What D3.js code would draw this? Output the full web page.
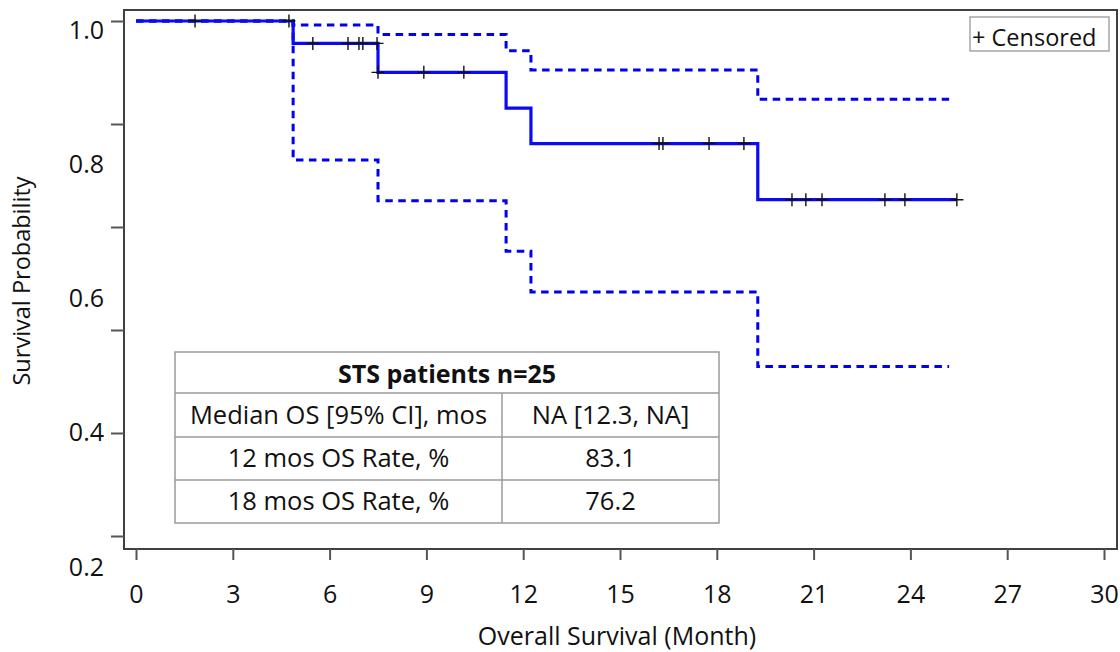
<!DOCTYPE html>
<html>
<head>
<meta charset="utf-8">
<script src="https://cdn.jsdelivr.net/npm/d3@7"></script>
<style>
  body { margin: 0; background: #fff; }
  svg { display: block; font-family: "Open Sans", "Noto Sans", sans-serif; }
</style>
</head>
<body>
<svg id="km" width="1120" height="652"></svg>
<script>
// Kaplan-Meier step data (months / survival probability)
var stepTimes = [0, 4.87, 7.50, 11.47, 12.24, 19.27];
var survival  = [1, 0.9565, 0.9003, 0.831, 0.762, 0.653];
var upperCI   = [1, 0.992, 0.974, 0.942, 0.905, 0.848];
var lowerCI   = [1, 0.730, 0.651, 0.553, 0.474, 0.329];
var curveEnd = 25.44;
var ciEnd = 25.2;

// censored observations (months)
var censorTimes = [1.83, 4.74, 5.48, 6.57, 6.91, 7.03, 7.47, 7.50, 8.92, 10.16,
                   16.21, 16.33, 17.76, 18.84, 20.33, 20.76, 21.26, 23.21, 23.83, 25.44];

var xTicks = [0, 3, 6, 9, 12, 15, 18, 21, 24, 27, 30];
var yTicks = [0, 0.2, 0.4, 0.6, 0.8, 1.0];
var yLabels = [0.2, 0.4, 0.6, 0.8, 1.0];

var tableTitle = "STS patients n=25";
var tableRows = [
  ["Median OS [95% CI], mos", "NA [12.3, NA]"],
  ["12 mos OS Rate, %", "83.1"],
  ["18 mos OS Rate, %", "76.2"]
];

var svg = d3.select("#km");
var frame = {left: 124, top: 10, right: 1117, bottom: 549};

var x = d3.scaleLinear().domain([0, 30]).range([136, 1104]);
var y = d3.scaleLinear().domain([0, 1]).range([536, 21]);
// the printed labels sit on their own spacing in the original figure
var yLab = d3.scaleLinear().domain([0.2, 1]).range([567, 30]);

function stepPoints(times, values, end) {
  var pts = times.map(function(t, i) { return [t, values[i]]; });
  pts.push([end, values[values.length - 1]]);
  return pts;
}

function survivalAt(t) {
  var i = d3.bisectRight(stepTimes, t) - 1;
  return survival[Math.max(0, i)];
}

var line = d3.line()
  .x(function(d) { return x(d[0]); })
  .y(function(d) { return y(d[1]); })
  .curve(d3.curveStepAfter);

// frame
svg.append("rect")
  .attr("x", frame.left).attr("y", frame.top)
  .attr("width", frame.right - frame.left).attr("height", frame.bottom - frame.top)
  .attr("fill", "none").attr("stroke", "#404040").attr("stroke-width", 2);

// x axis
var xAxis = svg.append("g")
  .attr("transform", "translate(0," + frame.bottom + ")")
  .call(d3.axisBottom(x).tickValues(xTicks).tickSize(11).tickPadding(25).tickSizeOuter(0));
xAxis.select(".domain").remove();
xAxis.selectAll(".tick line").attr("stroke", "#555").attr("stroke-width", 2);
xAxis.selectAll(".tick text").attr("font-size", 25).attr("fill", "#111")
  .attr("font-family", "Open Sans");

// y axis tick marks
var yAxis = svg.append("g")
  .attr("transform", "translate(" + frame.left + ",0)")
  .call(d3.axisLeft(y).tickValues(yTicks).tickSize(13).tickFormat(""));
yAxis.select(".domain").remove();
yAxis.selectAll(".tick line").attr("stroke", "#555").attr("stroke-width", 2);

// y axis labels
var yLabAxis = svg.append("g")
  .attr("transform", "translate(" + frame.left + ",0)")
  .call(d3.axisLeft(yLab).tickValues(yLabels).tickSize(0).tickPadding(20).tickFormat(d3.format(".1f")));
yLabAxis.select(".domain").remove();
yLabAxis.selectAll(".tick text").attr("font-size", 25).attr("fill", "#111")
  .attr("font-family", "Open Sans");

// axis titles
svg.append("text")
  .attr("x", 617).attr("y", 645)
  .attr("text-anchor", "middle").attr("font-size", 25).attr("fill", "#111")
  .text("Overall Survival (Month)");

svg.append("text")
  .attr("transform", "translate(30,281) rotate(-90)")
  .attr("text-anchor", "middle").attr("font-size", 23.5).attr("fill", "#111")
  .text("Survival Probability");

// confidence bands
svg.append("path")
  .datum(stepPoints(stepTimes, upperCI, ciEnd))
  .attr("d", line).attr("fill", "none")
  .attr("stroke", "#0000f0").attr("stroke-width", 3).attr("stroke-dasharray", "7.5,5.5");
svg.append("path")
  .datum(stepPoints(stepTimes, lowerCI, ciEnd))
  .attr("d", line).attr("fill", "none")
  .attr("stroke", "#0000f0").attr("stroke-width", 3).attr("stroke-dasharray", "7.5,5.5");

// survival curve
svg.append("path")
  .datum(stepPoints(stepTimes, survival, curveEnd))
  .attr("d", line).attr("fill", "none")
  .attr("stroke", "#0a0af5").attr("stroke-width", 3.2);

// censor marks
svg.append("g").selectAll("path")
  .data(censorTimes)
  .join("path")
  .attr("transform", function(t) { return "translate(" + x(t) + "," + y(survivalAt(t)) + ")"; })
  .attr("d", "M-6.5,0H6.5M0,-6.5V6.5")
  .attr("stroke", "#111").attr("stroke-width", 1.4);

// legend
svg.append("rect")
  .attr("x", 970).attr("y", 17).attr("width", 139).attr("height", 34)
  .attr("fill", "#fff").attr("stroke", "#999").attr("stroke-width", 1.3);
svg.append("text")
  .attr("x", 972).attr("y", 45.5).attr("font-size", 23.5).attr("fill", "#111")
  .text("+ Censored");

// summary table
var tbl = {left: 175, right: 719, mid: 502, top: 352, rowTops: [393, 437, 480, 523]};
var tg = svg.append("g");
tg.append("rect")
  .attr("x", tbl.left).attr("y", tbl.top)
  .attr("width", tbl.right - tbl.left).attr("height", tbl.rowTops[3] - tbl.top)
  .attr("fill", "#fff").attr("stroke", "#9a9a9a").attr("stroke-width", 1.5);
tg.selectAll("line.row")
  .data(tbl.rowTops.slice(0, 3))
  .join("line").attr("class", "row")
  .attr("x1", tbl.left).attr("x2", tbl.right)
  .attr("y1", function(d) { return d; }).attr("y2", function(d) { return d; })
  .attr("stroke", "#9a9a9a").attr("stroke-width", 1.5);
tg.append("line")
  .attr("x1", tbl.mid).attr("x2", tbl.mid)
  .attr("y1", tbl.rowTops[0]).attr("y2", tbl.rowTops[3])
  .attr("stroke", "#9a9a9a").attr("stroke-width", 1.5);
tg.append("text")
  .attr("x", (tbl.left + tbl.right) / 2).attr("y", (tbl.top + tbl.rowTops[0]) / 2 + 2)
  .attr("dy", "0.35em").attr("text-anchor", "middle")
  .attr("font-size", 25).attr("font-weight", "bold").attr("fill", "#111")
  .text(tableTitle);
tableRows.forEach(function(row, i) {
  var cy = (tbl.rowTops[i] + tbl.rowTops[i + 1]) / 2;
  tg.append("text")
    .attr("x", (tbl.left + tbl.mid) / 2).attr("y", cy).attr("dy", "0.35em")
    .attr("text-anchor", "middle").attr("font-size", 25.5).attr("fill", "#111")
    .text(row[0]);
  tg.append("text")
    .attr("x", (tbl.mid + tbl.right) / 2).attr("y", cy).attr("dy", "0.35em")
    .attr("text-anchor", "middle").attr("font-size", 25.5).attr("fill", "#111")
    .text(row[1]);
});
</script>
</body>
</html>
